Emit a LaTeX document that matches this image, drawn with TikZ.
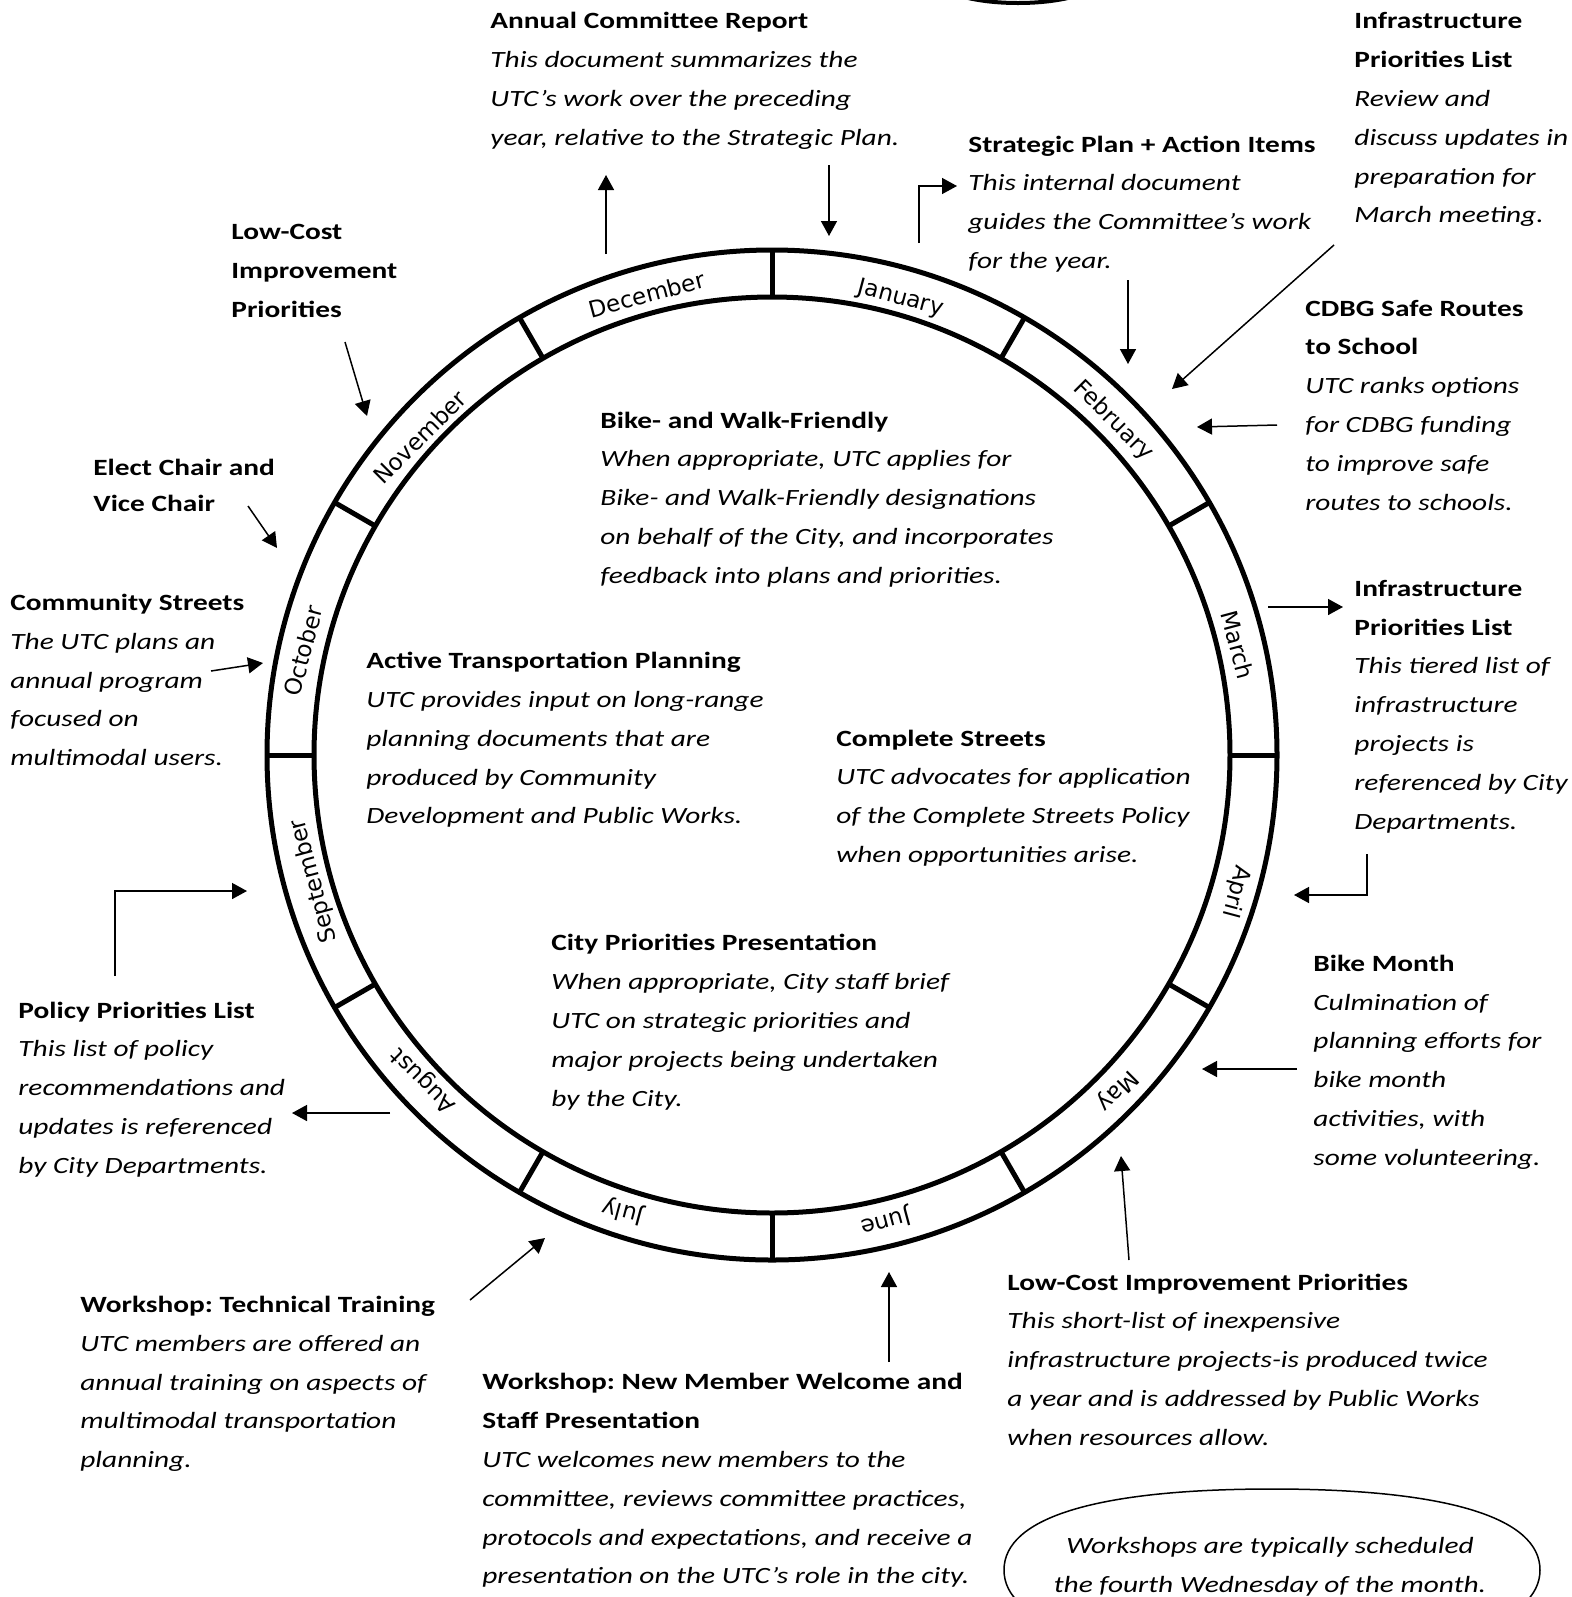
\documentclass[tikz,border=0pt]{standalone}
\usepackage{fontspec}
\setmainfont{Carlito}[FakeStretch=1.26]
\newfontfamily\monthfont{DejaVu Sans}
\usetikzlibrary{arrows.meta}
\newcommand\headln[1]{\textup{\bfseries #1}}
\frenchspacing
\begin{document}
\begin{tikzpicture}[x=0.5pt,y=-0.5pt]
\tikzset{
  ring/.style={line width=2.5pt},
  conn/.style={line width=0.75pt,-{Triangle[length=7.5pt,width=8pt]}},
  txt/.style={anchor=north west,inner sep=0pt,align=left,font=\fontsize{11.65}{19.4}\selectfont\itshape},
  note/.style={anchor=north,inner sep=0pt,align=center,font=\fontsize{11.65}{19.4}\selectfont\itshape},
  month/.style={inner sep=0pt,anchor=center,font=\monthfont\fontsize{11.5}{13}\selectfont},
  noteoval/.style={line width=0.75pt}
}
\useasboundingbox (0,0) rectangle (1572,1597);
\clip (0,0) rectangle (1572,1597);
\fill[white] (0,0) rectangle (1572,1597);

% clipped shape at the top edge
\draw[line width=2pt] (1018,-20) ellipse [x radius=80, y radius=23];

% ring
\begin{scope}[shift={(772,755)},y=0.5pt]
  \draw[ring] (0,0) circle [radius=505];
  \draw[ring] (0,0) circle [radius=458];
  \foreach \a in {90,60,...,-240} { \draw[ring] (\a:458) -- (\a:505); }
\end{scope}
\node[month,rotate=-15]  (m1)  at (900.6,298.5)  {January};
\node[month,rotate=-45]  (m2)  at (1113.5,420.8) {February};
\node[month,rotate=-75]  (m3)  at (1237.8,644.9) {March};
\node[month,rotate=-105] (m4)  at (1235.8,891.5) {April};
\node[month,rotate=-135] (m5)  at (1116.6,1090.1) {May};
\node[month,rotate=-165] (m6)  at (885.5,1221)   {June};
\node[month,rotate=165]  (m7)  at (623,1211)     {July};
\node[month,rotate=135]  (m8)  at (423.8,1079.9) {August};
\node[month,rotate=105]  (m9)  at (314,881)      {September};
\node[month,rotate=75]   (m10) at (303,651)      {October};
\node[month,rotate=45]   (m11) at (419.7,437.1)  {November};
\node[month,rotate=15]   (m12) at (646.9,294.4)  {December};

% text blocks
\node[txt] (annual) at (490,1.3) {\strut\headln{Annual Committee Report}\\
This document summarizes the\\
UTC’s work over the preceding\\
year, relative to the Strategic Plan.};

\node[txt] (infratop) at (1354,1.3) {\strut\headln{Infrastructure}\\
\headln{Priorities List}\\
Review and\\
discuss updates in\\
preparation for\\
March meeting.};

\node[txt] (strategic) at (968,124.5) {\strut\headln{Strategic Plan + Action Items}\\
This internal document\\
guides the Committee’s work\\
for the year.};

\node[txt] (lowcosttop) at (231,212.2) {\strut\headln{Low-Cost}\\
\headln{Improvement}\\
\headln{Priorities}};

\node[txt] (cdbg) at (1305,288.6) {\strut\headln{CDBG Safe Routes}\\
\headln{to School}\\
UTC ranks options\\
for CDBG funding\\
to improve safe\\
routes to schools.};

\node[txt] (bikewalk) at (600,400.6) {\strut\headln{Bike- and Walk-Friendly}\\
When appropriate, UTC applies for\\
Bike- and Walk-Friendly designations\\
on behalf of the City, and incorporates\\
feedback into plans and priorities.};

\node[txt,font=\fontsize{11.65}{17.8}\selectfont\itshape] (elect) at (93,450.5) {\strut\headln{Elect Chair and}\\
\headln{Vice Chair}};

\node[txt] (community) at (10,583.0) {\strut\headln{Community Streets}\\
The UTC plans an\\
annual program\\
focused on\\
multimodal users.};

\node[txt] (infraright) at (1354,568.7) {\strut\headln{Infrastructure}\\
\headln{Priorities List}\\
This tiered list of\\
infrastructure\\
projects is\\
referenced by City\\
Departments.};

\node[txt] (active) at (366,641.1) {\strut\headln{Active Transportation Planning}\\
UTC provides input on long-range\\
planning documents that are\\
produced by Community\\
Development and Public Works.};

\node[txt] (complete) at (836,718.5) {\strut\headln{Complete Streets}\\
UTC advocates for application\\
of the Complete Streets Policy\\
when opportunities arise.};

\node[txt] (citypri) at (551,923.3) {\strut\headln{City Priorities Presentation}\\
When appropriate, City staff brief\\
UTC on strategic priorities and\\
major projects being undertaken\\
by the City.};

\node[txt] (bikemonth) at (1313,943.7) {\strut\headln{Bike Month}\\
Culmination of\\
planning efforts for\\
bike month\\
activities, with\\
some volunteering.};

\node[txt] (policy) at (18,990.5) {\strut\headln{Policy Priorities List}\\
This list of policy\\
recommendations and\\
updates is referenced\\
by City Departments.};

\node[txt] (lowcostbot) at (1007,1262.5) {\strut\headln{Low-Cost Improvement Priorities}\\
This short-list of inexpensive\\
infrastructure projects-is produced twice\\
a year and is addressed by Public Works\\
when resources allow.};

\node[txt] (techtrain) at (80,1285.0) {\strut\headln{Workshop: Technical Training}\\
UTC members are offered an\\
annual training on aspects of\\
multimodal transportation\\
planning.};

\node[txt] (newmember) at (482,1362.4) {\strut\headln{Workshop: New Member Welcome and}\\
\headln{Staff Presentation}\\
UTC welcomes new members to the\\
committee, reviews committee practices,\\
protocols and expectations, and receive a\\
presentation on the UTC’s role in the city.};

% note oval
\draw[noteoval] (1004,1570) .. controls (1004,1517.3) and (1097.8,1489) .. (1272,1489)
  .. controls (1446.2,1489) and (1540,1517.3) .. (1540,1570)
  .. controls (1540,1622.7) and (1446.2,1651) .. (1272,1651)
  .. controls (1097.8,1651) and (1004,1622.7) .. (1004,1570) -- cycle;
\node[note] (notetext) at (1270,1526.4) {\strut Workshops are typically scheduled\\
the fourth Wednesday of the month.};

% connectors
\coordinate (a1s) at (606,254);   \coordinate (a1e) at (606,175);
\coordinate (a2s) at (829,165);   \coordinate (a2e) at (829,236);
\coordinate (a3s) at (919,243);   \coordinate (a3e) at (957,186);
\coordinate (a4s) at (1128,280);  \coordinate (a4e) at (1128,364);
\coordinate (a5s) at (1334,245);  \coordinate (a5e) at (1172,389);
\coordinate (a6s) at (1277,425);  \coordinate (a6e) at (1197,427);
\coordinate (a7s) at (1268,607);  \coordinate (a7e) at (1343,607);
\coordinate (a8s) at (1367,854);  \coordinate (a8e) at (1294,895);
\coordinate (a9s) at (1297,1069); \coordinate (a9e) at (1202,1069);
\coordinate (a10s) at (1129,1260); \coordinate (a10e) at (1121,1156);
\coordinate (a11s) at (889,1362); \coordinate (a11e) at (889,1272);
\coordinate (a12s) at (470,1300); \coordinate (a12e) at (545,1238);
\coordinate (a13s) at (390,1113); \coordinate (a13e) at (292,1113);
\coordinate (a14s) at (115,976);  \coordinate (a14e) at (247,891);
\coordinate (a15s) at (211,671);  \coordinate (a15e) at (263,663);
\coordinate (a16s) at (248,506);  \coordinate (a16e) at (277,548);
\coordinate (a17s) at (345,342);  \coordinate (a17e) at (367,416);

\draw[conn] (a1s) -- (a1e);
\draw[conn] (a2s) -- (a2e);
\draw[conn] (a3s) |- (a3e);
\draw[conn] (a4s) -- (a4e);
\draw[conn] (a5s) -- (a5e);
\draw[conn] (a6s) -- (a6e);
\draw[conn] (a7s) -- (a7e);
\draw[conn] (a8s) |- (a8e);
\draw[conn] (a9s) -- (a9e);
\draw[conn] (a10s) -- (a10e);
\draw[conn] (a11s) -- (a11e);
\draw[conn] (a12s) -- (a12e);
\draw[conn] (a13s) -- (a13e);
\draw[conn] (a14s) |- (a14e);
\draw[conn] (a15s) -- (a15e);
\draw[conn] (a16s) -- (a16e);
\draw[conn] (a17s) -- (a17e);
\end{tikzpicture}
\end{document}
